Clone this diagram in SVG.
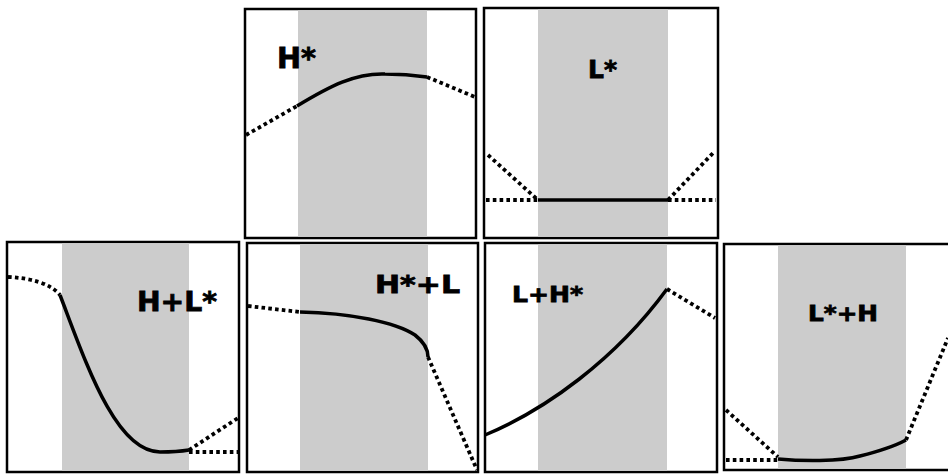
<svg xmlns="http://www.w3.org/2000/svg" width="948" height="474" viewBox="0 0 948 474">
<style>
.box{fill:#fff;stroke:#000;stroke-width:2.5}
.band{fill:#cccccc}
.solid{fill:none;stroke:#000;stroke-width:3.5;stroke-linecap:butt}
.dot{fill:none;stroke:#000;stroke-width:3.8;stroke-dasharray:3.6 3.2}
.lbl{font-family:"DejaVu Sans","Liberation Sans",sans-serif;font-weight:bold;fill:#000;stroke:#000;stroke-width:0.8}
</style>
<rect width="948" height="474" fill="#fff"/>
<g id="panel-Hstar">
<rect class="box" x="245" y="9" width="231" height="229"/>
<rect class="band" x="298" y="10.25" width="129" height="226.5"/>
<text class="lbl" x="277" y="68" font-size="28" textLength="39" lengthAdjust="spacingAndGlyphs">H*</text>
</g>
<g id="panel-Lstar">
<rect class="box" x="484" y="8" width="234" height="230"/>
<rect class="band" x="538" y="9.25" width="130" height="227.5"/>
<text class="lbl" x="588" y="78" font-size="25" textLength="29" lengthAdjust="spacingAndGlyphs">L*</text>
</g>
<g id="panel-HplusLstar">
<rect class="box" x="7" y="242" width="232" height="230"/>
<rect class="band" x="62" y="243.25" width="127" height="227.5"/>
<text class="lbl" x="137" y="311" font-size="27" textLength="80" lengthAdjust="spacingAndGlyphs">H+L*</text>
</g>
<g id="panel-HstarplusL">
<rect class="box" x="247" y="243" width="231" height="229"/>
<rect class="band" x="300" y="244.25" width="128" height="226.5"/>
<text class="lbl" x="375" y="293" font-size="25" textLength="85" lengthAdjust="spacingAndGlyphs">H*+L</text>
</g>
<g id="panel-LplusHstar">
<rect class="box" x="485" y="243" width="232" height="229"/>
<rect class="band" x="538" y="244.25" width="129" height="226.5"/>
<text class="lbl" x="512" y="302" font-size="22" textLength="71" lengthAdjust="spacingAndGlyphs">L+H*</text>
</g>
<g id="panel-LstarplusH">
<rect class="box" x="724" y="244" width="240" height="226"/>
<rect class="band" x="778" y="245.25" width="128" height="223.5"/>
<text class="lbl" x="808" y="321" font-size="21" textLength="70" lengthAdjust="spacingAndGlyphs">L*+H</text>
</g>
<g id="contours">
<path class="dot" d="M246,135 L297,106"/>
<path class="solid" d="M297,106 C330,86 355,73 385,74 C405,74 420,76 427,77"/>
<path class="dot" d="M427,77 L475,97"/>

<path class="dot" d="M486,200 L538,200"/>
<path class="dot" d="M488,155 L538,200"/>
<path class="solid" d="M538,200 L668,200"/>
<path class="dot" d="M668,200 L716,200"/>
<path class="dot" d="M668,200 L714,152"/>

<path class="dot" d="M8,277 C30,278 50,283 60,295"/>
<path class="solid" d="M60,295 C85,360 115,452 160,452 C175,452 183,451 189,450"/>
<path class="dot" d="M189,450 L238,418"/>
<path class="dot" d="M189,452 L238,452"/>

<path class="dot" d="M248,306 L300,312"/>
<path class="solid" d="M300,312 C350,313 395,322 415,335 C424,342 428,350 428,357"/>
<path class="dot" d="M428,357 L477,470"/>

<path class="solid" d="M485,435 C545,410 615,360 667,289"/>
<path class="dot" d="M667,289 L715,318"/>

<path class="dot" d="M726,460 L778,460"/>
<path class="dot" d="M726,410 L778,457"/>
<path class="solid" d="M778,459 C800,461 840,462 860,456 C880,451 895,446 906,440"/>
<path class="dot" d="M906,440 L948,338"/>
</g>
</svg>
